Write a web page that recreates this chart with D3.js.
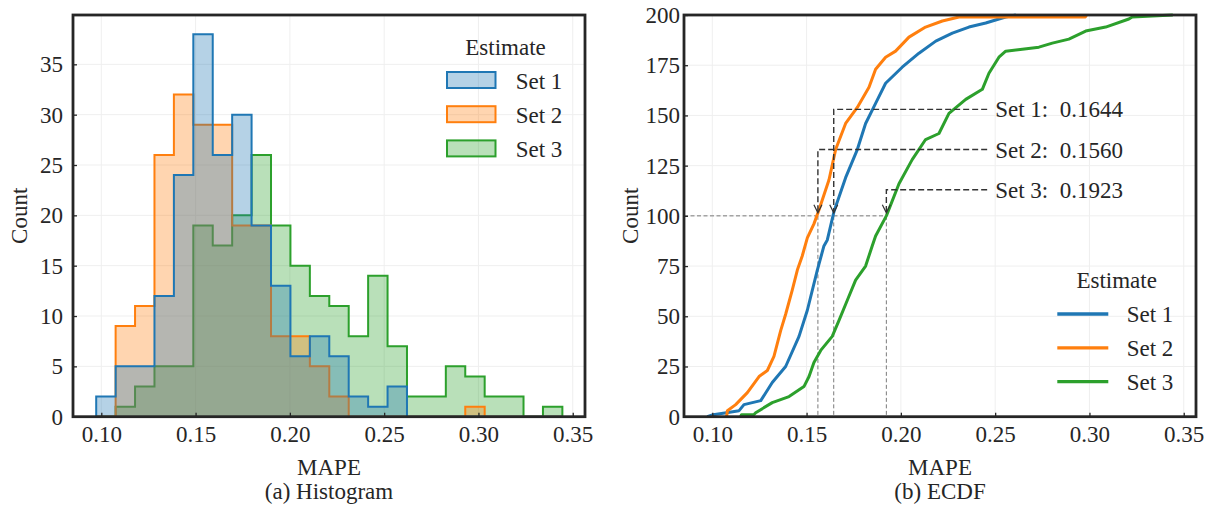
<!DOCTYPE html>
<html>
<head>
<meta charset="utf-8">
<script src="https://cdn.jsdelivr.net/npm/d3@7"></script>
<style>
body{margin:0;background:#fff;}
svg text{font-family:"Liberation Serif","Times New Roman",serif;font-size:23px;fill:#262626;}
</style>
</head>
<body>
<svg id="chart" width="1215" height="512"></svg>
<script>
// shared histogram bin edges (MAPE)
var binEdges=[0.0973,0.1076,0.1179,0.1282,0.1385,0.1488,0.1591,0.1694,0.1797,0.1900,0.2003,0.2106,
  0.2209,0.2312,0.2415,0.2518,0.2621,0.2724,0.2827,0.2930,0.3033,0.3136,0.3239,0.3342,0.3445];

// counts per bin
var set1Counts=[2,5,5,12,24,38,26,30,19,13,6,8,6,2,1,3,0,0,0,0,0,0,0,0];
var set2Counts=[0,9,11,26,32,29,29,19,19,8,8,5,2,0,0,0,0,0,0,1,0,0,0,0];
var set3Counts=[0,1,3,5,5,19,17,20,26,19,15,12,11,8,14,7,2,2,5,4,2,2,0,1];

// ecdf points [MAPE, count]
var ecdfSet1=[[0.0973,0],[0.1005,1],[0.1075,2],[0.1142,3],[0.1168,6],[0.1257,8],[0.1318,17],[0.1389,25],
  [0.1460,40],[0.1504,53],[0.1557,73],[0.1592,85],[0.1610,88],[0.1645,102],[0.1707,119],[0.1769,133],
  [0.1813,146],[0.1866,156],[0.1919,166],[0.2007,174],[0.2096,181],[0.2185,187],[0.2273,191],[0.2361,194],
  [0.2450,196],[0.2520,198],[0.2556,199],[0.2610,200]];
var ecdfSet2=[[0.1076,0],[0.1080,3],[0.1124,6],[0.1186,12],[0.1248,20],[0.1292,23],[0.1327,30],[0.1363,43],
  [0.1389,51],[0.1424,63],[0.1451,73],[0.1477,80],[0.1504,89],[0.1539,96],[0.1566,103],[0.1619,118],
  [0.1654,133],[0.1707,146],[0.1769,154],[0.1831,164],[0.1866,173],[0.1919,179],[0.1972,182],[0.2043,189],
  [0.2131,194],[0.2220,197],[0.2308,199],[0.2978,199],[0.2985,200]];
var ecdfSet3=[[0.1150,0],[0.1155,1],[0.1220,1],[0.1230,2],[0.1318,7],[0.1407,10],[0.1486,15],[0.1513,20],
  [0.1539,27],[0.1575,33],[0.1636,40],[0.1672,48],[0.1716,58],[0.1760,68],[0.1813,75],[0.1848,85],
  [0.1866,90],[0.1923,100],[0.1990,116],[0.2060,128],[0.2131,138],[0.2202,141],[0.2255,151],[0.2344,158],
  [0.2432,163],[0.2467,171],[0.2520,179],[0.2556,182],[0.2644,183],[0.2732,184],[0.2803,186],[0.2891,188],
  [0.2980,192],[0.3086,194],[0.3209,198],[0.3227,199],[0.3442,200]];

var seriesNames=["Set 1","Set 2","Set 3"];
var medians=[0.1644,0.1560,0.1923];
var medianLabelY=[153,133,113];   // count level of the annotation text
var medianLabelX=0.25;
var medianLevel=100;

var xTicks=[0.10,0.15,0.20,0.25,0.30,0.35];
var histYTicks=[0,5,10,15,20,25,30,35];
var ecdfYTicks=[0,25,50,75,100,125,150,175,200];

var colors=["#1f77b4","#ff7f0e","#2ca02c"];
var svg=d3.select("#chart");
var plotTop=15, plotBottom=416.7;
var xDomain=[0.085,0.3565];

function makePanel(left,right,yMax,yTicks,pad,name){
  var x=d3.scaleLinear().domain(xDomain).range([left,right]);
  var y=d3.scaleLinear().domain([0,yMax]).range([plotBottom,plotTop]);
  var g=svg.append("g");
  // faint grid
  g.append("g").selectAll("line").data(xTicks).enter().append("line")
    .attr("x1",function(d){return x(d);}).attr("x2",function(d){return x(d);})
    .attr("y1",plotTop).attr("y2",plotBottom).attr("stroke","#efefef").attr("stroke-width",1);
  g.append("g").selectAll("line").data(yTicks).enter().append("line")
    .attr("x1",left).attr("x2",right)
    .attr("y1",function(d){return y(d);}).attr("y2",function(d){return y(d);})
    .attr("stroke","#efefef").attr("stroke-width",1);
  var mark=svg.append("g");
  var axes=svg.append("g");
  axes.append("g").attr("transform","translate(0,"+plotBottom+")")
    .call(d3.axisBottom(x).tickValues(xTicks).tickFormat(d3.format(".2f")).tickSizeInner(-4).tickSizeOuter(0).tickPadding(9))
    .call(function(a){a.select(".domain").remove();a.selectAll("line").attr("stroke","#262626").attr("stroke-width",1.3);});
  axes.append("g").attr("transform","translate("+left+",0)")
    .call(d3.axisLeft(y).tickValues(yTicks).tickSizeInner(-4).tickSizeOuter(0).tickPadding(pad))
    .call(function(a){a.select(".domain").remove();a.selectAll("line").attr("stroke","#262626").attr("stroke-width",1.3);});
  axes.append("rect").attr("x",left).attr("y",plotTop).attr("width",right-left).attr("height",plotBottom-plotTop)
    .attr("fill","none").attr("stroke","#262626").attr("stroke-width",2.8);
  var cx=(left+right)/2;
  axes.append("text").attr("transform","translate("+(left-46.5)+","+((plotTop+plotBottom)/2)+") rotate(-90)")
    .attr("text-anchor","middle").text("Count");
  axes.append("text").attr("x",cx).attr("y",475).attr("text-anchor","middle").text("MAPE");
  axes.append("text").attr("x",cx).attr("y",499).attr("text-anchor","middle").text(name);
  return {x:x,y:y,g:mark,axes:axes};
}

// (a) histogram
var h=makePanel(73,585,39.9,histYTicks,10,"(a) Histogram");
var histCounts=[set1Counts,set2Counts,set3Counts];
// seaborn draws the last hue first
[2,1,0].forEach(function(k){
  var pts=[[binEdges[0],0]];
  histCounts[k].forEach(function(c,i){pts.push([binEdges[i],c]);pts.push([binEdges[i+1],c]);});
  pts.push([binEdges[binEdges.length-1],0]);
  var area=d3.area().x(function(d){return h.x(d[0]);}).y0(h.y(0)).y1(function(d){return h.y(d[1]);});
  var line=d3.line().x(function(d){return h.x(d[0]);}).y(function(d){return h.y(d[1]);});
  h.g.append("path").attr("d",area(pts)).attr("fill",colors[k]).attr("fill-opacity",0.33);
  h.g.append("path").attr("d",line(pts)).attr("fill","none").attr("stroke",colors[k]).attr("stroke-width",2);
});
var hl=h.axes.append("g");
hl.append("text").attr("x",505.5).attr("y",55).attr("text-anchor","middle").text("Estimate");
seriesNames.forEach(function(s,i){
  hl.append("rect").attr("x",447).attr("y",72+34.2*i).attr("width",48.5).attr("height",16)
    .attr("fill",colors[i]).attr("fill-opacity",0.33).attr("stroke",colors[i]).attr("stroke-width",2);
  hl.append("text").attr("x",515.7).attr("y",89.3+34*i).text(s);
});

// (b) ecdf
var e=makePanel(684,1196,200,ecdfYTicks,4,"(b) ECDF");
var ecdfLine=d3.line().x(function(d){return e.x(d[0]);}).y(function(d){return e.y(d[1]);});
var guides=e.g.append("g").attr("fill","none");
guides.append("line").attr("x1",e.x(xDomain[0])).attr("x2",e.x(d3.max(medians)))
  .attr("y1",e.y(medianLevel)).attr("y2",e.y(medianLevel))
  .attr("stroke","#7a7a7a").attr("stroke-width",1).attr("stroke-dasharray","4,2.5");
medians.forEach(function(m){
  guides.append("line").attr("x1",e.x(m)).attr("x2",e.x(m)).attr("y1",e.y(medianLevel)).attr("y2",e.y(0))
    .attr("stroke","#7a7a7a").attr("stroke-width",1).attr("stroke-dasharray","4,2.5");
});
[ecdfSet1,ecdfSet2,ecdfSet3].forEach(function(data,k){
  e.g.append("path").attr("d",ecdfLine(data)).attr("fill","none").attr("stroke",colors[k])
    .attr("stroke-width",3).attr("stroke-linejoin","round");
});
// median annotations
medians.forEach(function(m,i){
  var tx=e.x(medianLabelX), ty=e.y(medianLabelY[i]), mx=e.x(m), tip=e.y(medianLevel)-3;
  e.axes.append("path").attr("d","M"+(tx-8)+","+ty+"H"+mx+"V"+tip)
    .attr("fill","none").attr("stroke","#333").attr("stroke-width",1.4).attr("stroke-dasharray","6,3");
  e.axes.append("path").attr("d","M"+(mx-4)+","+(tip-8)+"L"+mx+","+tip+"L"+(mx+4)+","+(tip-8))
    .attr("fill","none").attr("stroke","#333").attr("stroke-width",1.2);
  e.axes.append("text").attr("x",tx).attr("y",ty).attr("dy","0.35em").style("white-space","pre")
    .text(seriesNames[i]+":  "+m.toFixed(4));
});
var el=e.axes.append("g");
el.append("text").attr("x",1116.7).attr("y",288).attr("text-anchor","middle").text("Estimate");
seriesNames.forEach(function(s,i){
  el.append("line").attr("x1",1057.3).attr("x2",1108.3).attr("y1",314+33.8*i).attr("y2",314+33.8*i)
    .attr("stroke",colors[i]).attr("stroke-width",3.3);
  el.append("text").attr("x",1126.7).attr("y",322+34*i).text(s);
});
</script>
</body>
</html>
